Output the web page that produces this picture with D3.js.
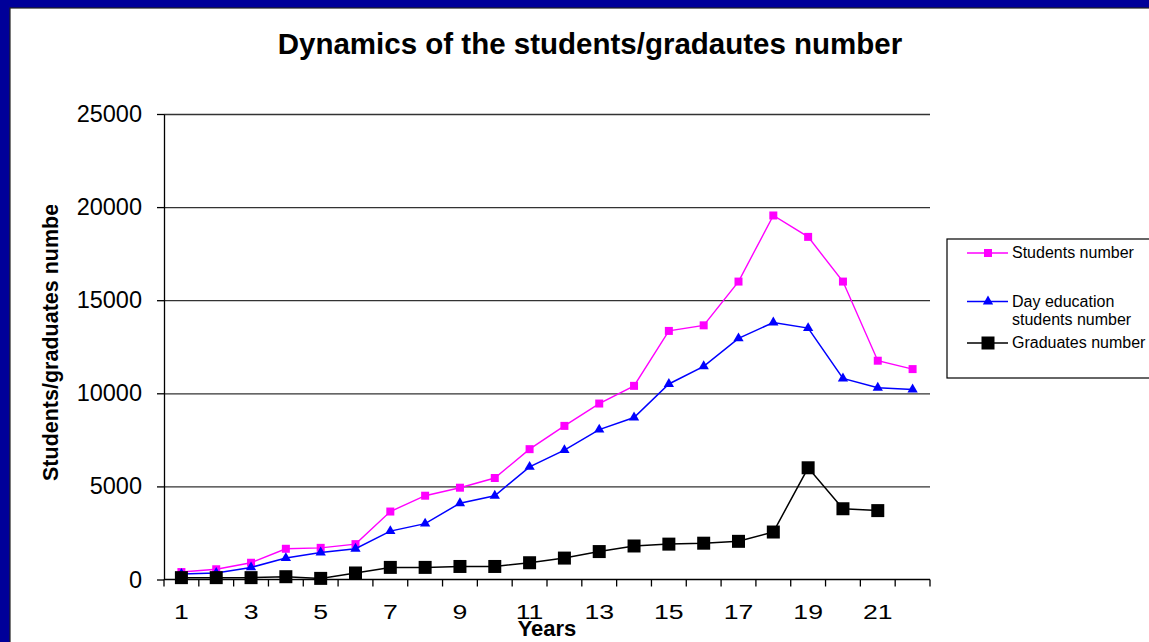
<!DOCTYPE html>
<html>
<head>
<meta charset="utf-8">
<script src="https://cdn.jsdelivr.net/npm/d3@7.9.0/dist/d3.min.js"></script>
<style>
  body { margin: 0; background: #000099; }
  svg { display: block; font-family: Arial, "Liberation Sans", sans-serif; }
</style>
</head>
<body>
<div id="chart"></div>
<script>
const years = d3.range(1, 23);
const studentsNumber = [400, 550, 900, 1650, 1700, 1900, 3650, 4500, 4930, 5450, 7000, 8250,
  9450, 10400, 13350, 13650, 16000, 19550, 18400, 16000, 11750, 11300];
const dayStudentsNumber = [300, 350, 650, 1150, 1450, 1650, 2600, 3000, 4100, 4500, 6050, 6950,
  8050, 8700, 10500, 11450, 12950, 13800, 13500, 10800, 10300, 10200];
const graduatesNumber = [100, 100, 100, 150, 60, 350, 650, 650, 700, 700, 900, 1150,
  1500, 1800, 1900, 1950, 2050, 2550, 6000, 3800, 3700, null];
const yTicks = [0, 5000, 10000, 15000, 20000, 25000];
const xTickLabels = [1, 3, 5, 7, 9, 11, 13, 15, 17, 19, 21];

const width = 1149, height = 642;
const plot = { left: 164, right: 930, top: 114, bottom: 579.5 };

const svg = d3.select('#chart').append('svg')
  .attr('width', width).attr('height', height);

// white panel inside the blue frame
svg.append('rect').attr('x', 10).attr('y', 8).attr('width', width).attr('height', height)
  .attr('fill', '#fff').attr('stroke', '#222').attr('stroke-width', 1.2);

const x = d3.scaleBand().domain(years).range([plot.left, plot.right]);
const y = d3.scaleLinear().domain([0, 25000]).range([plot.bottom, plot.top]);
const cx = d => x(d) + x.bandwidth() / 2;

svg.append('text')
  .attr('x', 590).attr('y', 54).attr('text-anchor', 'middle')
  .style('font-size', '29.5px').style('font-weight', 'bold')
  .text('Dynamics of the students/gradautes number');

// gridlines
svg.append('g')
  .attr('transform', `translate(${plot.left},0)`)
  .call(d3.axisLeft(y).tickValues(yTicks.slice(1)).tickFormat('').tickSize(-(plot.right - plot.left)))
  .call(g => g.select('.domain').remove())
  .call(g => g.selectAll('line').attr('stroke', '#333').attr('stroke-width', 1.3));

// y axis
svg.append('g')
  .attr('transform', `translate(${plot.left},0)`)
  .call(d3.axisLeft(y).tickValues(yTicks).tickSize(7).tickSizeOuter(0).tickPadding(15).tickFormat(d3.format('d')))
  .call(g => g.select('.domain').attr('stroke', '#000').attr('stroke-width', 1.3))
  .call(g => g.selectAll('line').attr('stroke', '#000').attr('stroke-width', 1.3))
  .call(g => g.selectAll('text').style('font-size', '23.5px').attr('fill', '#000')
    .attr('font-family', 'Arial, "Liberation Sans", sans-serif'));

// x axis: ticks between categories
const xAxis = svg.append('g').attr('transform', `translate(0,${plot.bottom})`);
const boundaries = d3.range(0, years.length + 1).map(i => plot.left + i * x.step());
xAxis.append('line')
  .attr('x1', plot.left).attr('x2', plot.right)
  .attr('stroke', '#000').attr('stroke-width', 1.3);
xAxis.selectAll('line.tick').data(boundaries).join('line').attr('class', 'tick')
  .attr('x1', d => d).attr('x2', d => d).attr('y1', 0).attr('y2', 7)
  .attr('stroke', '#000').attr('stroke-width', 1.3);
xAxis.selectAll('text').data(xTickLabels).join('text')
  .attr('transform', d => `translate(${cx(d)},39.5) scale(1.3,1)`)
  .attr('text-anchor', 'middle')
  .style('font-size', '20.5px').text(d => d);

svg.append('text')
  .attr('x', 547).attr('y', 636).attr('text-anchor', 'middle')
  .style('font-size', '22px').style('font-weight', 'bold').text('Years');

// y axis title, clipped like the original
svg.append('clipPath').attr('id', 'ytitle-clip')
  .append('rect').attr('x', 20).attr('y', 205).attr('width', 60).attr('height', 300);
svg.append('g').attr('clip-path', 'url(#ytitle-clip)')
  .append('text')
  .attr('transform', 'translate(58,481) rotate(-90)')
  .attr('text-anchor', 'start')
  .style('font-size', '21.5px').style('font-weight', 'bold')
  .text('Students/graduates number');

// series
const series = [
  { name: 'students', values: studentsNumber, color: '#ff00ff', width: 1.4, symbol: d3.symbolSquare, size: 64 },
  { name: 'day', values: dayStudentsNumber, color: '#0000ff', width: 1.5, symbol: d3.symbolTriangle, size: 46 },
  { name: 'graduates', values: graduatesNumber, color: '#000000', width: 1.5, symbol: d3.symbolSquare, size: 169 }
];

const line = d3.line()
  .defined(d => d.v != null)
  .x(d => cx(d.year)).y(d => y(d.v));

series.forEach(s => {
  const pts = years.map((yr, i) => ({ year: yr, v: s.values[i] }));
  svg.append('path').datum(pts)
    .attr('fill', 'none').attr('stroke', s.color).attr('stroke-width', s.width)
    .attr('d', line);
  svg.append('g').selectAll('path').data(pts.filter(d => d.v != null)).join('path')
    .attr('transform', d => `translate(${cx(d.year)},${y(d.v)})`)
    .attr('d', d3.symbol(s.symbol, s.size))
    .attr('fill', s.color);
});

// legend
const legend = svg.append('g');
legend.append('rect').attr('x', 947).attr('y', 239).attr('width', 220).attr('height', 139)
  .attr('fill', '#fff').attr('stroke', '#000').attr('stroke-width', 1.2);
const legendItems = [
  { s: series[0], ly: 253, ty: 258, lines: ['Students number'] },
  { s: series[1], ly: 301.5, ty: 307, lines: ['Day education', 'students number'] },
  { s: series[2], ly: 343, ty: 348, lines: ['Graduates number'] }
];
legendItems.forEach(it => {
  legend.append('line').attr('x1', 967).attr('x2', 1008).attr('y1', it.ly).attr('y2', it.ly)
    .attr('stroke', it.s.color).attr('stroke-width', it.s.width);
  legend.append('path').attr('transform', `translate(988,${it.ly})`)
    .attr('d', d3.symbol(it.s.symbol, it.s.size)).attr('fill', it.s.color);
  it.lines.forEach((t, i) => {
    legend.append('text').attr('x', 1012).attr('y', it.ty + i * 18)
      .style('font-size', '16px').text(t);
  });
});
</script>
</body>
</html>
